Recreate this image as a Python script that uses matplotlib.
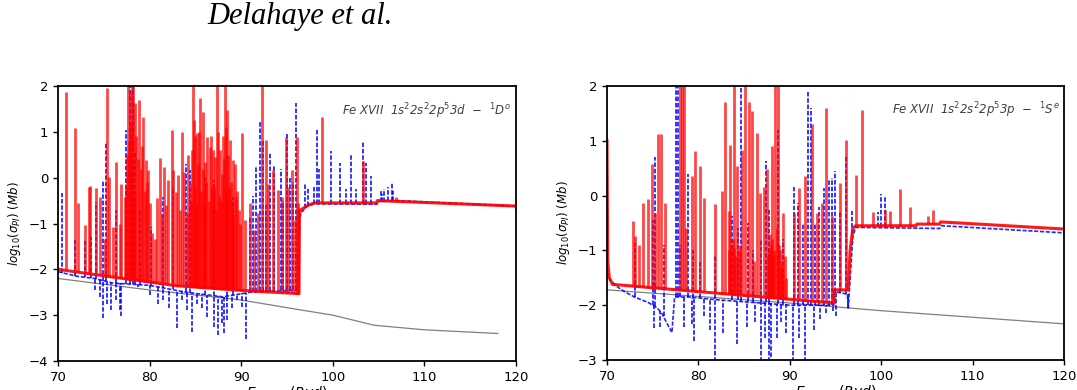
import numpy as np
import matplotlib.pyplot as plt

# ---- left panel: Fe XVII 1s2 2s2 2p5 3d 1D^o ----
# smooth backgrounds (E in Ryd, log10 sigma in Mb)
l_red_base_x = [70, 76, 83, 90, 96.3, 96.35, 97.3, 98, 104.8, 104.85, 120]
l_red_base_y = [-2.0, -2.17, -2.36, -2.46, -2.53, -0.72, -0.6, -0.55, -0.55, -0.5, -0.62]
l_blue_base_x = [70, 72, 74, 76, 80, 84, 88, 91, 96.2, 96.3, 96.6, 97.2, 98, 104.8, 104.9, 107, 120]
l_blue_base_y = [-2.05, -2.15, -2.2, -2.3, -2.35, -2.5, -2.6, -2.5, -2.45, -0.9, -0.75, -0.62, -0.57,
                 -0.58, -0.52, -0.5, -0.62]
l_gray_x = [70, 80, 90, 96, 100, 104.5, 110, 118]
l_gray_y = [-2.2, -2.45, -2.67, -2.87, -3.0, -3.22, -3.32, -3.4]

# resonances: energy, peak, foot
l_red_x = [70.84, 71.82, 72.19, 72.92, 73.35, 73.53, 74.12, 74.56, 75.10, 75.36, 75.58, 76.01, 76.38,
           76.74, 76.92, 77.29, 77.50, 77.65, 77.84, 78.02, 78.20, 78.38, 78.55, 78.70, 78.86, 79.05,
           79.29, 79.45, 79.58, 79.84, 80.02, 80.30, 80.57, 80.75, 81.12, 81.35, 81.55, 81.80, 82.03,
           82.39, 82.57, 82.86, 83.12, 83.30, 83.48, 83.74, 84.03, 84.20, 84.39, 84.55, 84.69, 84.83,
           85.00, 85.12, 85.30, 85.49, 85.65, 85.78, 85.92, 86.04, 86.29, 86.45, 86.58, 86.76, 86.95,
           87.13, 87.25, 87.38, 87.55, 87.67, 87.93, 88.05, 88.22, 88.35, 88.48, 88.62, 88.77, 88.95,
           89.13, 89.30, 89.42, 89.72, 90.04, 90.41, 90.95, 91.39, 91.87, 92.30, 92.70, 92.96, 93.51,
           94.05, 94.42, 94.89, 95.15, 95.51, 95.87, 96.05, 96.16, 98.79, 103.30, 106.90,
           77.40, 77.75, 77.95, 78.10, 78.30, 79.20, 79.70, 84.60, 84.95, 85.20, 85.40, 85.85,
           86.15, 86.70, 87.05, 87.45, 87.80, 88.15, 88.30, 88.55, 88.85, 89.05, 89.55, 89.90]
l_red_top = [1.88, 1.08, -0.56, -1.03, -0.20, -0.18, -0.23, -0.42, -1.33, 1.95, 0.02, -1.07, 0.35,
             -1.00, -0.13, -0.42, 0.50, 2.5, 1.90, 2.5, 2.5, 1.62, 0.90, 0.40, 1.70, 0.20,
             1.33, -0.30, 0.38, 0.17, -0.56, -1.20, -1.33, -0.45, 0.42, -0.80, 0.24, -0.60, -0.05,
             1.04, 0.17, -0.31, 0.06, -0.70, 1.00, 0.13, -0.78, 0.50, -0.13, -0.50, 2.5, 1.26,
             -0.20, 0.97, 0.30, 1.73, -0.30, 1.44, -0.60, 0.35, 0.89, -0.50, 0.68, -0.20, 0.60,
             0.46, -0.70, 2.5, -0.40, 0.60, 0.09, 0.90, 2.5, -0.30, 1.48, -0.20, 0.82, -0.50,
             0.38, 0.30, -0.42, -0.71, 0.97, -0.93, -0.56, -1.14, -0.78, 2.5, 0.82, -0.13, 0.17,
             -0.27, -0.42, 0.89, -0.20, 0.17, -0.93, 0.89, -0.56, 1.33, 0.37, -0.42,
             -0.20, 0.80, 1.20, 0.30, -0.40, 0.70, -0.10, 0.60, 0.90, -0.60, 1.00, 0.20,
             -0.10, 0.90, -0.20, 1.00, -0.50, 0.40, 1.10, 0.50, -0.10, -0.80, -0.30, -1.00]
l_red_foot = [-2.02, -2.05, -2.06, -2.08, -2.09, -2.10, -2.12, -2.13, -2.14, -2.15, -2.16, -2.17, -2.18,
              -2.19, -2.20, -2.21, -2.21, -2.22, -2.22, -2.23, -2.23, -2.24, -2.24, -2.25, -2.25, -2.25,
              -2.26, -2.27, -2.27, -2.28, -2.28, -2.29, -2.30, -2.30, -2.31, -2.32, -2.32, -2.33, -2.33,
              -2.34, -2.35, -2.36, -2.36, -2.36, -2.37, -2.37, -2.37, -2.38, -2.38, -2.38, -2.38, -2.39,
              -2.39, -2.39, -2.39, -2.40, -2.40, -2.40, -2.40, -2.40, -2.41, -2.41, -2.41, -2.41, -2.42,
              -2.42, -2.42, -2.42, -2.42, -2.43, -2.43, -2.43, -2.43, -2.43, -2.44, -2.44, -2.44, -2.44,
              -2.44, -2.45, -2.45, -2.45, -2.46, -2.46, -2.47, -2.48, -2.48, -2.49, -2.49, -2.49, -2.50,
              -2.50, -2.51, -2.51, -2.52, -2.52, -2.53, -2.53, -2.53, -0.55, -0.55, -0.50,
              -2.21, -2.22, -2.23, -2.23, -2.24, -2.26, -2.27, -2.38, -2.39, -2.39, -2.40, -2.40,
              -2.41, -2.41, -2.42, -2.42, -2.43, -2.43, -2.43, -2.44, -2.44, -2.44, -2.45, -2.46]

l_blue_up_x = [70.47, 71.82, 72.92, 73.64, 74.12, 74.92, 75.21, 76.38, 77.47, 77.84, 78.13, 78.38,
               78.93, 80.20, 81.48, 82.57, 84.00, 84.39, 86.04, 87.06, 88.40, 89.13, 90.95, 91.30,
               91.62, 92.05, 92.40, 92.75, 93.10, 93.60, 94.30, 94.60, 94.96, 95.30, 95.60, 96.00,
               97.00, 97.30, 97.90, 98.30, 98.50, 99.80, 100.80, 101.40, 102.00, 102.50, 103.30,
               103.60, 104.20, 105.20, 105.40, 105.60, 106.00, 106.40, 106.60]
l_blue_up_top = [-0.34, -1.33, -1.33, -1.29, -0.53, -0.05, 0.75, -0.71, 1.04, 2.5, 2.5, 0.53,
                 -0.71, -1.07, -0.42, -0.20, 0.30, 0.17, 0.02, -0.05, -0.56, -0.42, -0.85, -0.40,
                 0.26, 1.24, 0.81, -0.60, 0.53, 0.28, 0.20, -0.50, 0.95, 0.02, -0.10, 1.62,
                 -0.14, -0.22, -0.20, 1.06, 0.20, 0.59, 0.33, -0.25, 0.51, -0.25, 0.77,
                 0.33, 0.04, -0.30, -0.35, -0.25, -0.20, -0.10, -0.30]
l_blue_up_foot = [-2.07, -2.14, -2.17, -2.19, -2.21, -2.25, -2.26, -2.30, -2.31, -2.32, -2.32, -2.33,
                  -2.34, -2.35, -2.40, -2.43, -2.50, -2.51, -2.55, -2.58, -2.58, -2.55, -2.50, -2.50,
                  -2.49, -2.48, -2.48, -2.48, -2.47, -2.47, -2.46, -2.46, -2.46, -2.45, -2.45, -2.45,
                  -0.66, -0.62, -0.58, -0.57, -0.57, -0.57, -0.57, -0.57, -0.57, -0.57, -0.58,
                  -0.58, -0.58, -0.52, -0.52, -0.52, -0.51, -0.51, -0.51]
l_blue_dn_x = [74.00, 74.56, 74.92, 75.36, 75.83, 76.38, 76.74, 76.92, 78.75, 80.02, 80.93, 81.48,
               82.14, 82.94, 83.48, 84.03, 84.58, 85.12, 85.67, 86.22, 87.02, 87.49, 87.86, 88.11,
               88.40, 88.95, 89.50, 90.04, 90.52]
l_blue_dn_bot = [-2.45, -2.60, -3.07, -2.75, -2.88, -2.67, -2.89, -3.01, -2.38, -2.55, -2.75, -2.67,
                 -2.85, -3.29, -2.67, -2.89, -3.36, -2.75, -2.85, -3.04, -3.25, -3.44, -3.18, -3.40,
                 -3.11, -2.85, -2.67, -2.82, -3.53]
l_blue_dn_top = [-2.20, -2.22, -2.25, -2.27, -2.29, -2.30, -2.30, -2.30, -2.33, -2.35, -2.38, -2.40,
                 -2.42, -2.45, -2.47, -2.50, -2.51, -2.53, -2.54, -2.56, -2.58, -2.59, -2.60, -2.60,
                 -2.58, -2.56, -2.54, -2.52, -2.51]

# ---- right panel: Fe XVII 1s2 2s2 2p5 3p 1S^e ----
r_red_base_x = [70.0, 70.08, 70.25, 70.6, 94.85, 94.9, 96.4, 96.6, 96.9, 97.2, 103.8, 103.9, 106.4,
                106.5, 120]
r_red_base_y = [1.0, -1.2, -1.5, -1.62, -1.96, -1.72, -1.72, -1.0, -0.6, -0.55, -0.55, -0.52, -0.52,
                -0.48, -0.61]
r_blue_base_x = [70, 70.3, 71, 72, 73, 74.5, 75.5, 76, 77.1, 77.4, 79, 82, 86, 90, 94.8, 94.9, 96.3,
                 96.4, 96.9, 97.2, 106.4, 106.6, 120]
r_blue_base_y = [-1.4, -1.52, -1.65, -1.76, -1.85, -1.95, -2.05, -2.15, -2.5, -1.85, -1.85, -1.9,
                 -1.95, -2.0, -2.0, -1.75, -1.8, -2.05, -0.75, -0.58, -0.6, -0.55, -0.68]
r_gray_x = [70, 80, 90, 100, 110, 120]
r_gray_y = [-1.72, -1.84, -1.96, -2.1, -2.22, -2.34]

r_red_x = [72.81, 73.10, 73.46, 73.94, 74.45, 74.92, 75.28, 75.58, 75.94, 76.38, 78.02, 78.20, 78.38,
           78.60, 79.29, 79.66, 80.20, 80.64, 81.84, 82.57, 82.94, 83.30, 83.48, 83.60, 83.85, 83.95,
           84.21, 84.40, 84.76, 85.12, 85.49, 85.85, 86.10, 86.40, 86.76, 87.20, 87.49, 87.70, 87.95,
           88.04, 88.20, 88.40, 88.66, 88.90, 89.10, 89.31, 89.60, 90.41, 91.03, 91.68, 92.41, 92.96,
           93.51, 93.98, 94.60, 95.51, 96.17, 97.26, 97.88, 99.15, 100.43, 100.98, 102.07, 103.16,
           105.17, 105.71,
           83.40, 83.75, 84.10, 84.55, 87.60, 87.85, 88.10, 88.30, 88.55, 88.80, 89.00, 89.45]
r_red_top = [-0.47, -0.74, -0.90, -0.13, -0.07, 0.57, -0.32, 1.12, 1.12, -0.13, 2.5, 2.5, 2.5,
             -0.60, 0.35, 0.81, 0.54, -0.04, -0.16, 0.08, 1.70, -0.29, 0.93, -0.90, 2.5, -0.95,
             0.54, -1.00, 0.84, 2.5, 1.70, 1.54, -1.20, 1.15, 0.05, 0.15, 0.48, -1.00, -0.90,
             0.90, -1.10, 2.5, 2.5, -1.00, -1.20, -0.32, -1.50, -0.32, 0.14, 0.35, 1.30, -0.32,
             -0.13, 1.60, -0.38, 0.23, 1.02, 0.38, 1.57, -0.30, -0.26, -0.29, 0.12, -0.20,
             -0.38, -0.27,
             -1.00, -0.80, -1.10, -0.90, -1.10, -0.70, -0.80, -1.00, -0.60, -0.90, -1.30, -1.10]
r_red_foot = [-1.65, -1.66, -1.66, -1.67, -1.68, -1.68, -1.69, -1.69, -1.70, -1.70, -1.72, -1.73, -1.73,
              -1.73, -1.74, -1.75, -1.75, -1.76, -1.78, -1.79, -1.79, -1.80, -1.80, -1.80, -1.81, -1.81,
              -1.81, -1.81, -1.82, -1.82, -1.83, -1.83, -1.84, -1.84, -1.85, -1.85, -1.86, -1.86, -1.86,
              -1.86, -1.87, -1.87, -1.87, -1.88, -1.88, -1.88, -1.89, -1.90, -1.91, -1.92, -1.93, -1.93,
              -1.94, -1.95, -1.96, -1.72, -1.72, -0.55, -0.55, -0.55, -0.55, -0.55, -0.55, -0.55,
              -0.52, -0.52,
              -1.80, -1.81, -1.81, -1.82, -1.86, -1.86, -1.86, -1.87, -1.87, -1.87, -1.88, -1.89]

r_blue_up_x = [73.10, 75.00, 75.30, 76.20, 77.55, 77.80, 77.95, 78.90, 79.40, 80.20, 81.80, 83.70,
               84.30, 84.63, 85.40, 86.00, 86.80, 87.36, 87.70, 88.70, 89.30, 90.46, 90.90, 91.50,
               92.00, 92.30, 92.80, 93.20, 93.70, 94.30, 94.60, 94.95, 95.50, 96.20, 96.85, 99.70,
               100.00, 100.40]
r_blue_up_top = [-0.87, -0.44, 0.70, -0.90, 2.5, 2.5, -0.90, 0.39, -1.00, -1.20, -1.10, -0.37,
                 -0.60, 2.5, -0.50, -1.00, -0.80, 0.64, -0.27, 1.20, -0.80, 0.15, -0.13, -0.50,
                 1.90, 1.60, -0.50, -0.20, 0.14, 0.30, 0.32, 0.45, -0.30, 0.70, -0.28, -0.30,
                 0.03, 0.00]
r_blue_up_foot = [-1.85, -2.00, -2.02, -2.20, -1.85, -1.85, -1.85, -1.85, -1.86, -1.87, -1.89, -1.91,
                  -1.91, -1.92, -1.93, -1.94, -1.95, -1.95, -1.96, -1.97, -1.98, -2.00, -2.00, -2.00,
                  -2.00, -2.00, -2.00, -2.00, -2.00, -2.00, -2.00, -1.75, -1.77, -1.80, -0.70, -0.58,
                  -0.58, -0.58]
r_blue_dn_x = [75.10, 75.80, 78.40, 79.30, 79.50, 80.60, 81.30, 81.80, 82.70, 84.20, 85.30, 86.20,
               86.90, 87.30, 87.70, 87.90, 88.60, 89.00, 89.60, 90.40, 91.00, 91.70, 92.60, 93.30,
               94.00, 94.70, 95.10, 96.40]
r_blue_dn_bot = [-2.42, -2.39, -2.39, -2.35, -2.66, -2.20, -2.45, -3.5, -2.50, -2.70, -2.40, -2.30,
                 -3.5, -2.60, -3.5, -2.95, -2.60, -2.30, -2.50, -3.5, -2.60, -3.5, -2.45, -2.25,
                 -2.15, -2.10, -2.20, -2.06]
r_blue_dn_top = [-2.00, -2.10, -1.85, -1.86, -1.86, -1.87, -1.88, -1.89, -1.90, -1.91, -1.93, -1.94,
                 -1.95, -1.95, -1.96, -1.96, -1.97, -1.97, -1.98, -2.00, -2.00, -2.00, -2.00, -2.00,
                 -2.00, -2.00, -1.75, -1.80]

labels = [r'Fe XVII  1s$^2$2s$^2$2p$^5$3d  $-$  $^1D^o$',
          r'Fe XVII  1s$^2$2s$^2$2p$^5$3p  $-$  $^1S^e$']

fig = plt.figure(figsize=(10.77, 3.90), dpi=100)
ax1 = fig.add_axes([0.0539, 0.0744, 0.4253, 0.705])
ax2 = fig.add_axes([0.5636, 0.0769, 0.4243, 0.7026])

blue_ls = (0, (2.5, 1.0))


def draw(ax, gx, gy, bbx, bby, bux, but, buf, bdx, bdb, bdt, rbx, rby, rx, rt, rf):
    ax.plot(gx, gy, color='0.5', lw=0.9)
    ax.plot(bbx, bby, color='blue', lw=1.2, ls=blue_ls, alpha=0.85)
    ax.vlines(bux, buf, but, color='blue', lw=1.3, linestyles=[blue_ls], alpha=0.85)
    ax.vlines(bdx, bdb, bdt, color='blue', lw=1.3, linestyles=[blue_ls], alpha=0.85)
    ax.vlines(rx, rf, rt, color='red', lw=2.0, alpha=0.72)
    ax.plot(rbx, rby, color='red', lw=2.2, alpha=0.9)


draw(ax1, l_gray_x, l_gray_y, l_blue_base_x, l_blue_base_y, l_blue_up_x, l_blue_up_top,
     l_blue_up_foot, l_blue_dn_x, l_blue_dn_bot, l_blue_dn_top, l_red_base_x, l_red_base_y,
     l_red_x, l_red_top, l_red_foot)
draw(ax2, r_gray_x, r_gray_y, r_blue_base_x, r_blue_base_y, r_blue_up_x, r_blue_up_top,
     r_blue_up_foot, r_blue_dn_x, r_blue_dn_bot, r_blue_dn_top, r_red_base_x, r_red_base_y,
     r_red_x, r_red_top, r_red_foot)

ax1.set_ylim(-4, 2)
ax2.set_ylim(-3, 2)
for ax, lab in zip([ax1, ax2], labels):
    ax.set_xlim(70, 120)
    ax.set_xticks(np.arange(70, 121, 10))
    ax.tick_params(labelsize=9.5, length=3.5, width=1)
    for s in ax.spines.values():
        s.set_linewidth(1.3)
    ax.set_xlabel(r'$E_{Photon}(Ryd)$', fontsize=10, labelpad=0)
    ax.set_ylabel(r'$log_{10}(\sigma_{PI})\ (Mb)$', fontsize=8.5)
    ax.text(0.99, 0.91, lab, transform=ax.transAxes, ha='right', va='center',
            fontsize=8.5, style='italic', color='0.25')

fig.text(0.279, 0.958, 'Delahaye et al.', ha='center', va='center',
         family='Liberation Serif', style='italic', fontsize=22)

fig.savefig('out.png', dpi=100)
